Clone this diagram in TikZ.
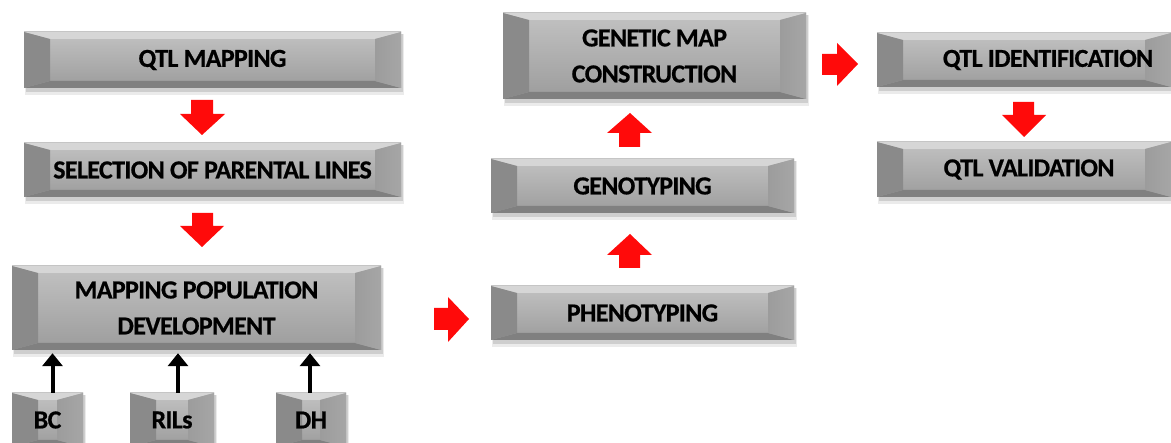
\documentclass[tikz,border=0pt]{standalone}
\usepackage{fontspec}
\setmainfont{Carlito}[LetterSpace=-2.5,FakeBold=0.6]
\usetikzlibrary{arrows.meta,calc}
\definecolor{topface}{HTML}{D6D6D6}
\definecolor{fronttop}{HTML}{C2C2C2}
\definecolor{frontbot}{HTML}{9C9C9C}
\definecolor{leftface}{HTML}{8A8A8A}
\definecolor{rightface}{HTML}{A6A6A6}
\definecolor{botface}{HTML}{808080}
\definecolor{arrowred}{HTML}{FF0A0A}
\tikzset{
  boxtext/.style={font=\bfseries\fontsize{26}{36}\selectfont, align=center, inner sep=0pt, text=black},
  redarrow/.style={fill=arrowred, draw=none},
  blackarrow/.style={line width=4pt, -{Triangle[length=13pt,width=20pt]}, shorten >=3pt}
}
\newcommand\bx{26}
\newcommand\by{7}
% name, x1, y1, x2, y2, text, text x offset
\newcommand\bevelbox[7]{%
  \fill[black,opacity=0.08] (#2+1,#3+2) rectangle (#4+3,#5+7);
  \fill[black,opacity=0.12] (#2+2,#3+2) rectangle (#4+2,#5+4);
  \shade[top color=fronttop,bottom color=frontbot] (#2,#3) rectangle (#4,#5);
  \fill[topface] (#2,#3) -- (#4,#3) -- (#4-\bx,#3+\by) -- (#2+\bx,#3+\by) -- cycle;
  \fill[botface] (#2,#5) -- (#4,#5) -- (#4-\bx,#5-\by) -- (#2+\bx,#5-\by) -- cycle;
  \fill[leftface] (#2,#3) -- (#2+\bx,#3+\by) -- (#2+\bx,#5-\by) -- (#2,#5) -- cycle;
  \shade[left color=frontbot,right color=rightface] (#4,#3) -- (#4-\bx,#3+\by) -- (#4-\bx,#5-\by) -- (#4,#5) -- cycle;
  \node[boxtext, minimum height={#5-#3}] (#1) at ({(#2+#4)/2+#7},{(#3+#5)/2}) {#6};
}
\begin{document}
\begin{tikzpicture}[x=1pt,y=-1pt]
\useasboundingbox (0,0) rectangle (1171,443);
\clip (0,0) rectangle (1171,443);
\fill[white] (0,0) rectangle (1171,443);

\bevelbox{qtlmap}{24}{32}{401}{88}{QTL MAPPING}{0}
\bevelbox{select}{24}{143}{401}{197}{SELECTION OF PARENTAL LINES}{0}
\bevelbox{mpd}{12}{266}{381}{350}{MAPPING POPULATION\\DEVELOPMENT}{0}
\bevelbox{bc}{12}{393}{83}{447}{BC}{0}
\bevelbox{rils}{130}{393}{214}{447}{RILs}{0}
\bevelbox{dh}{276}{393}{346}{447}{DH}{0}
\bevelbox{pheno}{491}{286}{794}{340}{PHENOTYPING}{0}
\bevelbox{geno}{491}{159}{794}{213}{GENOTYPING}{0}
\bevelbox{gmc}{503}{13}{806}{99}{GENETIC MAP\\CONSTRUCTION}{0}
\bevelbox{qtlid}{877}{33}{1171}{87}{QTL IDENTIFICATION}{24}
\bevelbox{qtlval}{877}{142}{1171}{197}{QTL VALIDATION}{5}

% red block arrows
\fill[redarrow] (191,100) -- (213,100) -- (213,114) -- (225,114) -- (202,135) -- (180,114) -- (191,114) -- cycle;
\fill[redarrow] (192,213) -- (213,213) -- (213,226) -- (224,226) -- (202,247) -- (180,226) -- (192,226) -- cycle;
\fill[redarrow] (1013,102) -- (1034,102) -- (1034,115) -- (1046,115) -- (1024,137) -- (1002,115) -- (1013,115) -- cycle;
\fill[redarrow] (434,308) -- (448,308) -- (448,297) -- (469,319) -- (448,342) -- (448,330) -- (434,330) -- cycle;
\fill[redarrow] (822,54) -- (837,54) -- (837,43) -- (858,64) -- (837,86) -- (837,75) -- (822,75) -- cycle;
\fill[redarrow] (619,147) -- (640,147) -- (640,133) -- (652,133) -- (630,113) -- (607,133) -- (619,133) -- cycle;
\fill[redarrow] (619,268) -- (640,268) -- (640,255) -- (652,255) -- (630,234) -- (607,255) -- (619,255) -- cycle;

% black arrows
\draw[blackarrow] ([xshift=5pt]bc.north) -- ([xshift=5pt]bc.north |- mpd.south);
\draw[blackarrow] ([xshift=6pt]rils.north) -- ([xshift=6pt]rils.north |- mpd.south);
\draw[blackarrow] ([xshift=-1pt]dh.north) -- ([xshift=-1pt]dh.north |- mpd.south);
\end{tikzpicture}
\end{document}
